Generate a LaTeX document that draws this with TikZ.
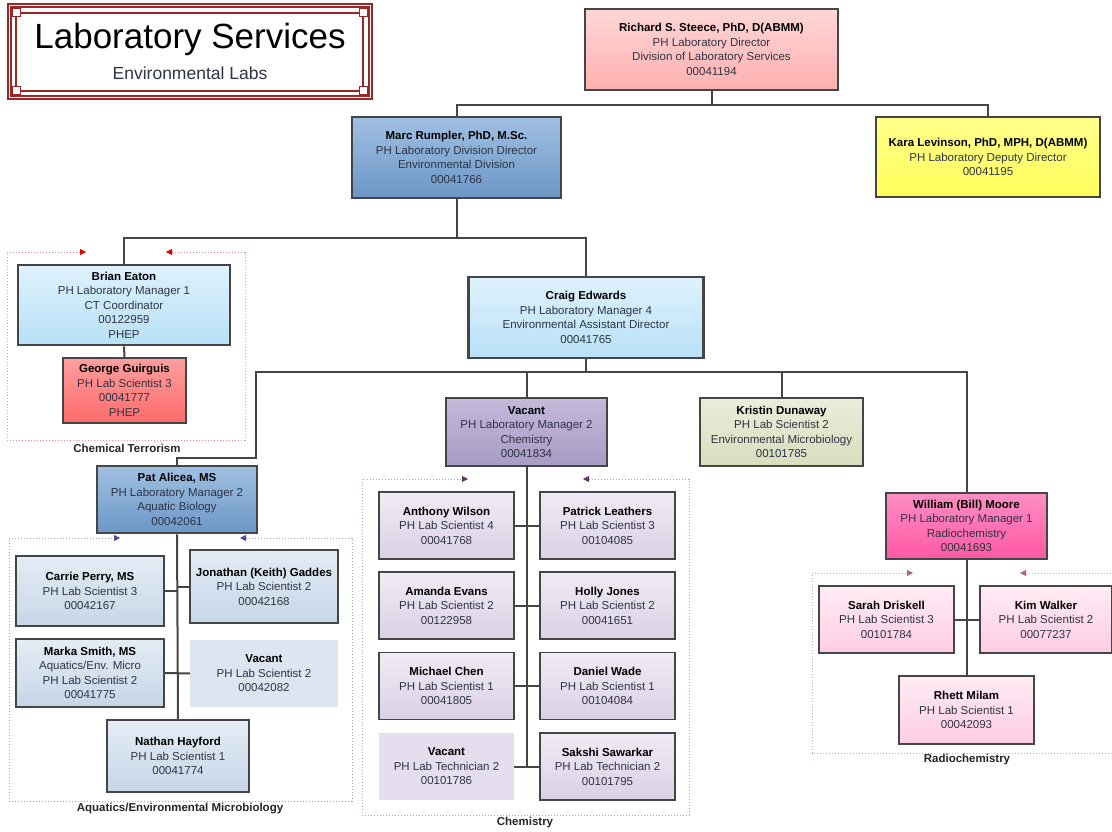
\documentclass[tikz,border=0pt]{standalone}
\usepackage{fontspec}
\setmainfont{Liberation Sans}
\usetikzlibrary{arrows.meta}

\definecolor{frame}{HTML}{454545}
\definecolor{ink}{HTML}{2E3444}
\definecolor{titlered}{HTML}{9A2626}
\newcommand{\who}[1]{\textcolor{black}{\textbf{#1}}}

\begin{document}
\begin{tikzpicture}[x=1pt,y=-1pt,font=\fontsize{11.5}{14.5}\selectfont,text=ink,
	box/.style 2 args={align=center,inner sep=1pt,minimum width=#1,minimum height=#2},
	mgr/.style={draw=frame,line width=2.8pt},
	staff/.style={draw=frame,line width=1.8pt},
	wire/.style={draw=frame,line width=2pt},
	grp/.style 2 args={draw=#1,line width=0.8pt,dash pattern=on 1.5pt off 1.5pt,
		arrows={Triangle[length=6pt,width=6pt,color=#2]-Triangle[length=6pt,width=6pt,color=#2]}},
	lab/.style={font=\fontsize{11.5}{14}\selectfont\bfseries,text=black!85},
	pinkbox/.style={top color={rgb,255:red,255;green,214;blue,214},bottom color={rgb,255:red,255;green,176;blue,176}},
	steelbox/.style={top color={rgb,255:red,160;green,192;blue,226},bottom color={rgb,255:red,108;green,150;blue,198}},
	yellowbox/.style={top color=yellow!45,bottom color=yellow!65},
	skybox/.style={top color={rgb,255:red,222;green,242;blue,253},bottom color={rgb,255:red,184;green,224;blue,246}},
	redbox/.style={top color=red!38,bottom color=red!58},
	lilacbox/.style={top color={rgb,255:red,196;green,186;blue,218},bottom color={rgb,255:red,168;green,155;blue,196}},
	sagebox/.style={top color={rgb,255:red,234;green,237;blue,218},bottom color={rgb,255:red,216;green,222;blue,190}},
	rosebox/.style={top color={rgb,255:red,255;green,142;blue,196},bottom color={rgb,255:red,255;green,88;blue,164}},
	aqbox/.style={top color={rgb,255:red,228;green,236;blue,245},bottom color={rgb,255:red,198;green,214;blue,232}},
	chembox/.style={top color={rgb,255:red,240;green,235;blue,245},bottom color={rgb,255:red,218;green,209;blue,229}},
	radbox/.style={top color={rgb,255:red,255;green,236;blue,245},bottom color={rgb,255:red,255;green,204;blue,228}}]
	\path[use as bounding box,fill=white] (0,0) rectangle (1112,832);

	% title
	\draw[titlered,line width=2pt,double=white,double distance=1pt] (9,6) rectangle (370,98);
	\draw[titlered,line width=1.8pt] (16,13) rectangle (363,91);
	\foreach \p in {(16,13),(363,13),(16,91),(363,91)}{\draw[titlered,line width=1pt,fill=white] \p ++(-4,-4) rectangle ++(8,8);}
	\node[text=black] (title) at (190,39) {\fontsize{35}{40}\selectfont Laboratory Services};
	\node (subtitle) at (190,73) {\fontsize{17.5}{20}\selectfont Environmental Labs};

	% groups
	\draw[grp={red!45}{red!85!black}] (166,252)--(245,252)--(245,440)--(7,440)--(7,252)--(86,252);
	\draw[grp={blue!25!gray!60}{blue!40!black!70}] (240,538)--(352,538)--(352,801)--(9,801)--(9,538)--(120,538);
	\draw[grp={violet!25!gray!60}{violet!50!black!80}] (583,479)--(689,479)--(689,815)--(362,815)--(362,479)--(468,479);
	\draw[grp={magenta!40!gray!60}{magenta!60!black!80}] (1020,573)--(1120,573)--(1120,753)--(812,753)--(812,573)--(913,573);
	\node[lab] (ctlab) at (127,448) {Chemical Terrorism};
	\node[lab] (aqlab) at (180,809) {Aquatics/Environmental Microbiology};
	\node[lab] (chlab) at (525,823) {Chemistry};
	\node[lab] (radlab) at (967,760) {Radiochemistry};

	% managers
	\node[box={253pt}{81pt},mgr,pinkbox] (steece) at (711.5,49.5) {\who{Richard S. Steece, PhD, D(ABMM)}\\PH Laboratory Director\\Division of Laboratory Services\\00041194};
	\node[box={209pt}{81pt},mgr,steelbox] (rumpler) at (456.5,157.5) {\who{Marc Rumpler, PhD, M.Sc.}\\PH Laboratory Division Director\\Environmental Division\\00041766};
	\node[box={224pt}{80pt},mgr,yellowbox] (levinson) at (988,157) {\who{Kara Levinson, PhD, MPH, D(ABMM)}\\PH Laboratory Deputy Director\\00041195};
	\node[box={212pt}{80pt},mgr,skybox] (brian) at (124,305) {\who{Brian Eaton}\\PH Laboratory Manager 1\\CT Coordinator\\00122959\\PHEP};
	\node[box={123pt}{65pt},staff,redbox] (george) at (124.5,390.5) {\who{George Guirguis}\\PH Lab Scientist 3\\00041777\\PHEP};
	\node[box={235pt}{81pt},mgr,skybox] (craig) at (586,317.5) {\who{Craig Edwards}\\PH Laboratory Manager 4\\Environmental Assistant Director\\00041765};
	\node[box={161pt}{68pt},staff,lilacbox] (chemmgr) at (526.5,432) {\who{Vacant}\\PH Laboratory Manager 2\\Chemistry\\00041834};
	\node[box={163pt}{68pt},staff,sagebox] (kristin) at (781.5,432) {\who{Kristin Dunaway}\\PH Lab Scientist 2\\Environmental Microbiology\\00101785};
	\node[box={161pt}{66pt},mgr,rosebox] (bill) at (966.5,526) {\who{William (Bill) Moore}\\PH Laboratory Manager 1\\Radiochemistry\\00041693};
	\node[box={160pt}{67pt},mgr,steelbox] (pat) at (177,499.5) {\who{Pat Alicea, MS}\\PH Laboratory Manager 2\\Aquatic Biology\\00042061};

	% aquatics
	\node[box={148pt}{70pt},staff,aqbox] (carrie) at (90,591) {\who{Carrie Perry, MS}\\PH Lab Scientist 3\\00042167};
	\node[box={148pt}{73pt},staff,aqbox] (keith) at (264,586.5) {\who{Jonathan (Keith) Gaddes}\\PH Lab Scientist 2\\00042168};
	\node[box={148pt}{68pt},staff,aqbox] (marka) at (90,673) {\who{Marka Smith, MS}\\Aquatics/Env. Micro\\PH Lab Scientist 2\\00041775};
	\node[box={148pt}{67pt},fill={rgb,255:red,220;green,230;blue,241}] (aqvac) at (264,673.5) {\who{Vacant}\\PH Lab Scientist 2\\00042082};
	\node[box={142pt}{72pt},staff,aqbox] (nathan) at (178,756) {\who{Nathan Hayford}\\PH Lab Scientist 1\\00041774};

	% chemistry
	\node[box={135pt}{67pt},staff,chembox] (anthony) at (446.5,525.5) {\who{Anthony Wilson}\\PH Lab Scientist 4\\00041768};
	\node[box={135pt}{67pt},staff,chembox] (patrick) at (607.5,525.5) {\who{Patrick Leathers}\\PH Lab Scientist 3\\00104085};
	\node[box={135pt}{67pt},staff,chembox] (amanda) at (446.5,605.5) {\who{Amanda Evans}\\PH Lab Scientist 2\\00122958};
	\node[box={135pt}{67pt},staff,chembox] (holly) at (607.5,605.5) {\who{Holly Jones}\\PH Lab Scientist 2\\00041651};
	\node[box={135pt}{67pt},staff,chembox] (michael) at (446.5,686) {\who{Michael Chen}\\PH Lab Scientist 1\\00041805};
	\node[box={135pt}{67pt},staff,chembox] (daniel) at (607.5,686) {\who{Daniel Wade}\\PH Lab Scientist 1\\00104084};
	\node[box={135pt}{67pt},fill={rgb,255:red,229;green,222;blue,238}] (chemvac) at (446.5,766.5) {\who{Vacant}\\PH Lab Technician 2\\00101786};
	\node[box={135pt}{67pt},staff,chembox] (sakshi) at (607.5,766.5) {\who{Sakshi Sawarkar}\\PH Lab Technician 2\\00101795};

	% radiochemistry
	\node[box={135pt}{67pt},staff,radbox] (sarah) at (886.5,619.5) {\who{Sarah Driskell}\\PH Lab Scientist 3\\00101784};
	\node[box={132pt}{67pt},staff,radbox] (kim) at (1046,619.5) {\who{Kim Walker}\\PH Lab Scientist 2\\00077237};
	\node[box={135pt}{68pt},staff,radbox] (rhett) at (966.5,710) {\who{Rhett Milam}\\PH Lab Scientist 1\\00042093};

	% wires
	\draw[wire] (steece.south) -- ++(0,14) coordinate (t1) -| (rumpler.north);
	\draw[wire] (t1) -| (levinson.north);
	\draw[wire] (rumpler.south) -- ++(0,39) coordinate (t2) -| (brian.north);
	\draw[wire] (t2) -| (craig.north);
	\draw[wire] (brian.south) -- (george.north);
	\draw[wire] (craig.south) -- ++(0,13) coordinate (t3) -| (chemmgr.north);
	\draw[wire] (t3) -| (kristin.north);
	\draw[wire] (t3) -| (bill.north);
	\coordinate (bend) at (256,458);
	\draw[wire] (t3) -| (bend) -| (pat.north);
	\draw[wire] (pat.south) -- (nathan.north);
	\draw[wire] (carrie.east) -- (carrie.east -| pat.south);
	\draw[wire] (keith.west) -- (keith.west -| pat.south);
	\draw[wire] (marka.east) -- (aqvac.west);
	\draw[wire] (chemmgr.south) -- (chemmgr.south |- sakshi.west);
	\foreach \a/\b in {anthony/patrick,amanda/holly,michael/daniel,chemvac/sakshi}{\draw[wire] (\a.east) -- (\b.west);}
	\draw[wire] (bill.south) -- (rhett.north);
	\draw[wire] (sarah.east) -- (kim.west);
\end{tikzpicture}
\end{document}
